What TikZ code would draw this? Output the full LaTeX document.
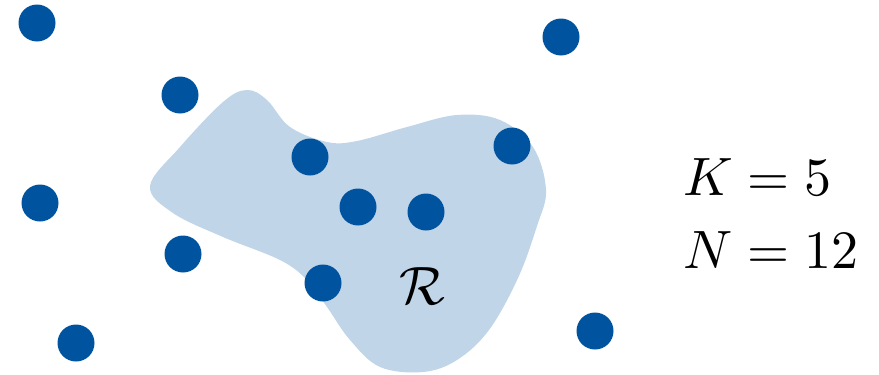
\documentclass[tikz,border=0pt]{standalone}
\usepackage{graphicx}
\definecolor{dotblue}{RGB}{0,83,159}
\definecolor{regionblue}{RGB}{192,213,232}
\newcommand{\bigtext}[1]{\scalebox{5.4}{#1}}
\tikzset{
  pt/.style={circle,fill=dotblue,inner sep=0pt,minimum size=37pt},
  big/.style={inner sep=0pt}
}
\begin{document}
\begin{tikzpicture}[x=1pt,y=-1pt]
\useasboundingbox (0,0) rectangle (879,375);
\fill[regionblue] plot[smooth cycle,tension=0.6] coordinates {
 (150,186) (180,147) (223,102) (247,90) (267,100) (290,127) (327,142) (357,141)
 (407,127) (457,115) (500,120) (533,147) (546,190) (537,226) (518,278) (489,330)
 (457,360) (423,372) (380,367) (350,340) (327,307) (307,280) (280,260) (223,237) (173,213)};
\node[pt] (p1) at (37,23) {};
\node[pt] (p2) at (561,37) {};
\node[pt] (p3) at (180,95) {};
\node[pt] (p4) at (512,146) {};
\node[pt] (p5) at (310,157) {};
\node[pt] (p6) at (40,203) {};
\node[pt] (p7) at (358,207) {};
\node[pt] (p8) at (426,212) {};
\node[pt] (p9) at (183,254) {};
\node[pt] (p10) at (323,283) {};
\node[pt] (p11) at (76,343) {};
\node[pt] (p12) at (595,331) {};
\node[big,anchor=base] (r) at (422,304) {\bigtext{$\mathcal{R}$}};
\node[big,anchor=base west] (k) at (683,195) {\bigtext{$K=5$}};
\node[big,anchor=base west] (n) at (683,268) {\bigtext{$N=12$}};
\end{tikzpicture}
\end{document}
